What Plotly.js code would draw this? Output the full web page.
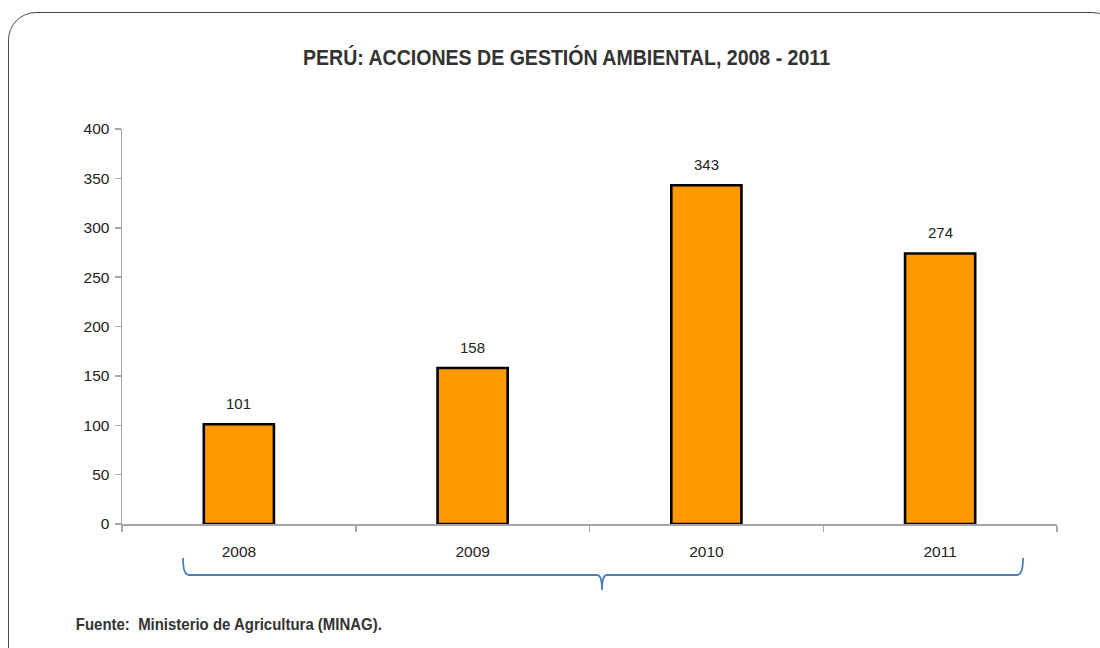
<!DOCTYPE html>
<html>
<head>
<meta charset="utf-8">
<script src="https://cdn.plot.ly/plotly-3.0.1.min.js"></script>
<style>
  html, body { margin: 0; padding: 0; width: 1100px; height: 648px; overflow: hidden; background: #fff; }
  #frame { position: absolute; left: 8px; top: 12px; width: 1112px; height: 700px;
           border: 1.5px solid #4a4a4a; border-radius: 28px; box-sizing: border-box; }
  #chart { position: absolute; left: 0; top: 0; width: 1100px; height: 648px; }
</style>
</head>
<body>
<div id="frame"></div>
<div id="chart"></div>
<script>
// Acciones de gestión ambiental por año
const years = ['2008', '2009', '2010', '2011'];
const acciones = [101, 158, 343, 274];
const yTicks = [0, 50, 100, 150, 200, 250, 300, 350, 400];

const titleText = 'PERÚ: ACCIONES DE GESTIÓN AMBIENTAL, 2008 - 2011';
const sourceText = 'Fuente:  Ministerio de Agricultura (MINAG).';

const FONT = '"Liberation Sans", Arial, sans-serif';

// plot area in pixels
const W = 1100, H = 648;
const L = 122, R = 43, T = 129, B = 124;
const pw = W - L - R, ph = H - T - B;
const px = v => (v - L) / pw;          // pixel x -> paper x
const py = v => (H - B - v) / ph;      // pixel y -> paper y

// curly brace under the category axis
const brace = [
  'M', px(183), py(558),
  'Q', px(183), py(575), px(189), py(575),
  'L', px(597), py(575),
  'Q', px(602), py(575), px(602), py(590),
  'Q', px(602), py(575), px(607), py(575),
  'L', px(1017), py(575),
  'Q', px(1023), py(575), px(1023), py(558)
].join(' ');

const trace = {
  type: 'bar',
  x: years,
  y: acciones,
  width: 0.3,
  marker: { color: '#FF9900', line: { color: '#000', width: 2.6 } },
  hoverinfo: 'none'
};

// value labels above each bar (category index as x position)
const labels = years.map((yr, i) => ({
  xref: 'x', yref: 'y', x: i, y: acciones[i], text: String(acciones[i]),
  showarrow: false, yanchor: 'bottom', yshift: 10,
  font: { family: FONT, size: 15, color: '#222' }
}));

// source note, centred on its own span so it can be condensed in place
labels.push({
  xref: 'paper', yref: 'paper', x: px(229), y: py(624),
  xanchor: 'center', yanchor: 'middle', showarrow: false,
  text: sourceText,
  font: { family: FONT, size: 16.5, color: '#333', weight: 'bold' }
});

const layout = {
  width: W, height: H,
  margin: { l: L, r: R, t: T, b: B, pad: 0 },
  paper_bgcolor: 'rgba(0,0,0,0)',
  plot_bgcolor: 'rgba(0,0,0,0)',
  showlegend: false,
  title: {
    text: titleText,
    font: { family: FONT, size: 22, color: '#333', weight: 'bold' },
    xref: 'container', x: 566.5 / W, xanchor: 'center',
    yref: 'container', y: 1 - 57 / H, yanchor: 'middle'
  },
  xaxis: {
    type: 'category',
    range: [-0.5, years.length - 0.5],
    showline: true, linecolor: '#A6A6A6', linewidth: 1.5,
    ticks: 'outside', tickson: 'boundaries', ticklen: 6, tickcolor: '#A6A6A6', tickwidth: 1.5,
    ticklabelstandoff: 13, tickangle: 0,
    showgrid: false, zeroline: false,
    tickfont: { family: FONT, size: 15.5, color: '#222' }
  },
  yaxis: {
    range: [0, 400],
    tickvals: yTicks,
    showline: true, linecolor: '#A6A6A6', linewidth: 1.5,
    ticks: 'outside', ticklen: 6, tickcolor: '#A6A6A6', tickwidth: 1.5,
    ticklabelstandoff: 2,
    showgrid: false, zeroline: false,
    tickfont: { family: FONT, size: 15.5, color: '#222' }
  },
  annotations: labels,
  shapes: [{
    type: 'path', xref: 'paper', yref: 'paper', path: brace,
    line: { color: '#4A7EBB', width: 1.8 }
  }]
};

// squeeze a text element horizontally to a narrow-face width
function condense(el, width) {
  if (!el) return;
  el.setAttribute('textLength', width);
  el.setAttribute('lengthAdjust', 'spacingAndGlyphs');
}

Plotly.newPlot('chart', [trace], layout, { staticPlot: true, displayModeBar: false })
  .then(gd => {
    condense(gd.querySelector('.gtitle'), 527);
    const notes = gd.querySelectorAll('.annotation-text');
    condense(notes[notes.length - 1], 306);
  });
</script>
</body>
</html>
